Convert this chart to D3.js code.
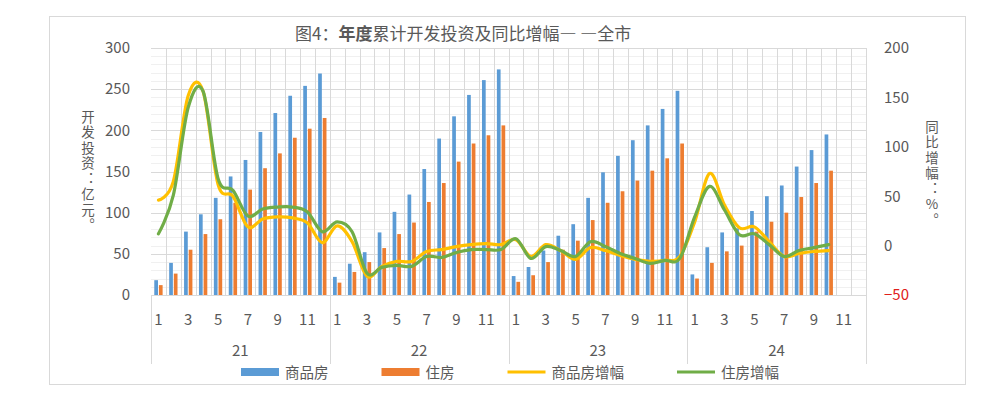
<!DOCTYPE html>
<html lang="zh">
<head>
<meta charset="UTF-8">
<title>图4：年度累计开发投资及同比增幅——全市</title>
<script src="https://cdn.jsdelivr.net/npm/d3@7"></script>
<style>
  body { margin: 0; background: #fff; }
  svg text { font-family: "Noto Sans CJK SC", "Noto Sans", sans-serif; fill: #595959; }
  .vtitle { writing-mode: vertical-rl; text-orientation: upright; }
</style>
</head>
<body>
<div id="chart"></div>
<script>
// category labels
const years = ["21", "22", "23", "24"];
const months = [1, 2, 3, 4, 5, 6, 7, 8, 9, 10, 11, 12];

// 开发投资（亿元）, 21-01 .. 24-12
const salesInvest = [
  18, 39, 77, 98, 118, 144, 164, 198, 221, 242, 254, 269,
  22, 38, 52, 76, 101, 122, 153, 190, 217, 243, 261, 274,
  23, 34, 54, 72, 86, 118, 149, 169, 188, 206, 226, 248,
  25, 58, 76, 81, 102, 120, 133, 156, 176, 195, null, null
];
const resInvest = [
  12, 26, 55, 74, 92, 112, 128, 154, 172, 191, 202, 215,
  15, 28, 40, 57, 74, 88, 113, 136, 162, 184, 194, 206,
  16, 24, 40, 55, 66, 91, 112, 126, 139, 151, 166, 184,
  20, 39, 53, 60, 77, 89, 100, 119, 136, 151, null, null
];

// 同比增幅（%）
const salesGrowth = [
  46, 65, 152, 156, 62, 50, 19, 27, 29, 28, 23, 3,
  20, 4, -31, -21, -16, -16, -6, -4, -1, 1, 2, 1,
  6, -11, 1, -5, -14, -2, -5, -10, -14, -16, -15, -11,
  24, 73, 41, 18, 19, 4, -11, -8, -6, -5, null, null
];
const resGrowth = [
  12, 51, 140, 156, 68, 56, 30, 37, 39, 39, 34, 14,
  24, 14, -28, -22, -20, -21, -11, -12, -7, -4, -4, -4,
  7, -13, -1, -5, -11, 4, -1, -8, -13, -18, -15, -13,
  29, 60, 36, 11, 12, 1, -11, -5, -2, 1, null, null
];

const leftTicks = [0, 50, 100, 150, 200, 250, 300];
const rightTicks = [-50, 0, 50, 100, 150, 200];

const width = 1006, height = 396;
const margin = { top: 48, right: 140, bottom: 101, left: 151 };
const plotBottom = height - margin.bottom;
const plotRight = width - margin.right;

const cats = d3.range(years.length * months.length);

const x = d3.scaleBand()
  .domain(cats)
  .range([margin.left, plotRight]);

const xs = d3.scaleBand()
  .domain(["sales", "res"])
  .range([x.bandwidth() * 0.22, x.bandwidth() * 0.78])
  .paddingInner(0.2);

const yL = d3.scaleLinear().domain([0, 300]).range([plotBottom, margin.top]);
const yR = d3.scaleLinear().domain([-50, 200]).range([plotBottom, margin.top]);

const colors = { sales: "#5b9bd5", res: "#ed7d31", salesG: "#ffc000", resG: "#70ad47" };

const svg = d3.select("#chart").append("svg")
  .attr("width", width)
  .attr("height", height);

// chart border
svg.append("rect")
  .attr("x", 49.5).attr("y", 16.5)
  .attr("width", 916).attr("height", 368)
  .attr("fill", "none")
  .attr("stroke", "#d9d9d9");

// title
const title = svg.append("text")
  .attr("x", 295).attr("y", 40)
  .attr("font-size", 17);
title.append("tspan").text("图4：");
title.append("tspan").attr("font-weight", "bold").text("年度");
title.append("tspan").text("累计开发投资及同比增幅— —全市");

// minor gridlines
svg.append("g")
  .selectAll("line")
  .data(d3.range(10, 300, 10).filter(v => v % 50 !== 0))
  .join("line")
  .attr("x1", margin.left).attr("x2", plotRight)
  .attr("y1", d => Math.round(yL(d)) + 0.5).attr("y2", d => Math.round(yL(d)) + 0.5)
  .attr("stroke", "#f0f0f0");

// major gridlines
svg.append("g")
  .selectAll("line")
  .data(leftTicks.slice(1))
  .join("line")
  .attr("x1", margin.left).attr("x2", plotRight)
  .attr("y1", d => Math.round(yL(d)) + 0.5).attr("y2", d => Math.round(yL(d)) + 0.5)
  .attr("stroke", "#d9d9d9");

svg.append("g")
  .selectAll("line")
  .data(cats.slice(1).concat([cats.length]))
  .join("line")
  .attr("x1", d => Math.round(d < cats.length ? x(d) : plotRight) + 0.5)
  .attr("x2", d => Math.round(d < cats.length ? x(d) : plotRight) + 0.5)
  .attr("y1", margin.top).attr("y2", plotBottom)
  .attr("stroke", "#d9d9d9");

// bars
const barData = [];
cats.forEach(i => {
  if (salesInvest[i] != null) barData.push({ i, key: "sales", v: salesInvest[i] });
  if (resInvest[i] != null) barData.push({ i, key: "res", v: resInvest[i] });
});

svg.append("g")
  .selectAll("rect")
  .data(barData)
  .join("rect")
  .attr("x", d => x(d.i) + xs(d.key))
  .attr("y", d => yL(d.v))
  .attr("width", xs.bandwidth())
  .attr("height", d => yL(0) - yL(d.v))
  .attr("fill", d => colors[d.key]);

// lines
const line = d3.line()
  .defined(d => d != null)
  .x((d, i) => x(i) + x.bandwidth() / 2)
  .y(d => yR(d))
  .curve(d3.curveCatmullRom.alpha(0));

svg.append("path")
  .datum(salesGrowth)
  .attr("d", line)
  .attr("fill", "none")
  .attr("stroke", colors.salesG)
  .attr("stroke-width", 3.2)
  .attr("stroke-linecap", "round");

svg.append("path")
  .datum(resGrowth)
  .attr("d", line)
  .attr("fill", "none")
  .attr("stroke", colors.resG)
  .attr("stroke-width", 3.2)
  .attr("stroke-linecap", "round");

// left axis
const yAxisL = d3.axisLeft(yL).tickValues(leftTicks).tickSize(0).tickPadding(21);
svg.append("g")
  .attr("transform", `translate(${margin.left},0)`)
  .call(yAxisL)
  .call(g => g.select(".domain").remove())
  .call(g => g.selectAll("text")
    .attr("font-size", 15)
    .attr("fill", null));

// right axis
const yAxisR = d3.axisRight(yR).tickValues(rightTicks).tickSize(0).tickPadding(18);
svg.append("g")
  .attr("transform", `translate(${plotRight},0)`)
  .call(yAxisR)
  .call(g => g.select(".domain").remove())
  .call(g => g.selectAll("text")
    .attr("font-size", 15)
    .attr("fill", null)
    .style("fill", d => d < 0 ? "#e0201b" : null));

// category axis: months
const xAxis = d3.axisBottom(x)
  .tickValues(cats.filter(i => months[i % 12] % 2 === 1))
  .tickFormat(i => months[i % 12])
  .tickSize(0)
  .tickPadding(19);
svg.append("g")
  .attr("transform", `translate(0,${plotBottom})`)
  .call(xAxis)
  .call(g => g.select(".domain").attr("stroke", "#d9d9d9"))
  .call(g => g.selectAll("text")
    .attr("font-size", 15)
    .attr("fill", null));

// year separators and labels
const yearEdge = k => k < years.length ? x(k * 12) : plotRight;
svg.append("g")
  .selectAll("line")
  .data(d3.range(years.length + 1))
  .join("line")
  .attr("x1", k => Math.round(yearEdge(k)) + 0.5)
  .attr("x2", k => Math.round(yearEdge(k)) + 0.5)
  .attr("y1", plotBottom).attr("y2", 364)
  .attr("stroke", "#d9d9d9");

svg.append("g")
  .selectAll("text")
  .data(years)
  .join("text")
  .attr("x", (d, k) => (yearEdge(k) + yearEdge(k + 1)) / 2)
  .attr("y", 356)
  .attr("text-anchor", "middle")
  .attr("font-size", 15)
  .text(d => d);

// axis titles, written vertically
svg.append("text")
  .attr("class", "vtitle")
  .attr("x", 88).attr("y", 110)
  .attr("font-size", 13.5)
  .attr("letter-spacing", 2)
  .text("开发投资：亿元。");

svg.append("text")
  .attr("class", "vtitle")
  .attr("x", 932).attr("y", 120)
  .attr("font-size", 13.5)
  .attr("letter-spacing", 2)
  .text("同比增幅：%。");

// legend
const legendItems = [
  { name: "商品房", color: colors.sales, type: "rect" },
  { name: "住房", color: colors.res, type: "rect" },
  { name: "商品房增幅", color: colors.salesG, type: "line" },
  { name: "住房增幅", color: colors.resG, type: "line" }
];
const legend = svg.append("g");
let lx = 241;
legendItems.forEach(item => {
  const g = legend.append("g").attr("transform", `translate(${lx},372)`);
  if (item.type === "rect") {
    g.append("rect").attr("x", 0).attr("y", -4).attr("width", 38).attr("height", 8).attr("fill", item.color);
  } else {
    g.append("line").attr("x1", 0).attr("x2", 38).attr("y1", 0).attr("y2", 0)
      .attr("stroke", item.color).attr("stroke-width", 3);
  }
  const t = g.append("text").attr("x", 44).attr("y", 6).attr("font-size", 14.5).text(item.name);
  lx += 44 + t.node().getComputedTextLength() + 53;
});
</script>
</body>
</html>
